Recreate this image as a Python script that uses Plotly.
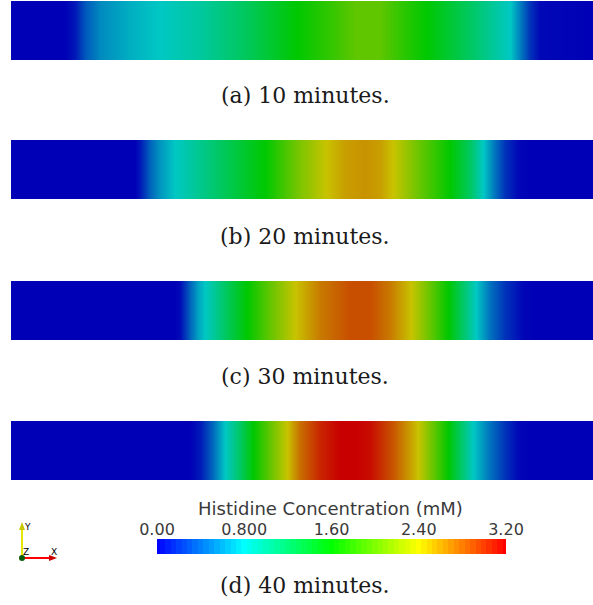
import plotly.graph_objects as go

W, H = 593, 605

# Position along the channel (pixel-like units across the strip, 11..593)
pos_a = [11, 65, 75, 85, 100, 130, 160, 200, 250, 297, 330, 355, 380, 400, 426, 470, 510, 520, 530, 540, 593]
val_a = [0, 0, 0.1, 0.35, 0.55, 0.7, 0.8, 0.95, 1.25, 1.6, 1.8, 1.98, 1.98, 1.8, 1.6, 1.2, 0.8, 0.5, 0.2, 0.03, 0]

pos_b = [11, 135, 140, 150, 160, 175, 220, 265, 300, 326, 345, 365, 380, 393, 420, 450, 470, 483, 495, 505, 518, 530, 593]
val_b = [0, 0, 0.1, 0.4, 0.6, 0.8, 1.2, 1.6, 2.1, 2.4, 2.55, 2.6, 2.55, 2.4, 2.0, 1.6, 1.2, 0.8, 0.45, 0.2, 0.03, 0, 0]

pos_c = [11, 175, 180, 190, 198, 205, 225, 247, 270, 295, 320, 350, 370, 390, 411, 430, 448, 462, 476, 490, 505, 523, 535, 593]
val_c = [0, 0, 0.05, 0.4, 0.65, 0.8, 1.2, 1.6, 2.0, 2.4, 2.7, 2.88, 2.88, 2.7, 2.4, 2.0, 1.6, 1.2, 0.8, 0.45, 0.2, 0.02, 0, 0]

pos_d = [11, 190, 200, 212, 225, 240, 253, 270, 287, 300, 320, 340, 355, 370, 393, 418, 433, 448, 460, 473, 490, 505, 518, 530, 593]
val_d = [0, 0, 0.1, 0.4, 0.8, 1.2, 1.6, 2.0, 2.4, 2.75, 3.05, 3.2, 3.2, 3.15, 2.85, 2.4, 2.0, 1.6, 1.2, 0.8, 0.45, 0.2, 0.03, 0, 0]

captions = ["(a) 10 minutes.", "(b) 20 minutes.", "(c) 30 minutes.", "(d) 40 minutes."]

cb_title = "Histidine Concentration (mM)"
cb_tickvals = [0.0, 0.8, 1.6, 2.4, 3.2]
cb_ticktext = ["0.00", "0.800", "1.60", "2.40", "3.20"]
cb_levels = [i * 0.05 for i in range(65)]  # colour-legend gradient levels

VMIN, VMAX = 0.0, 3.2

strip_scale = [[0.0, "rgb(0,0,182)"], [0.25, "rgb(0,200,195)"], [0.5, "rgb(0,200,0)"],
               [0.75, "rgb(200,195,0)"], [1.0, "rgb(200,0,0)"]]
bar_scale = [[0.0, "rgb(0,0,255)"], [0.25, "rgb(0,255,255)"], [0.5, "rgb(0,255,0)"],
             [0.75, "rgb(255,255,0)"], [1.0, "rgb(255,0,0)"]]

def py(px):
    return 1 - px / H

strips = [(pos_a, val_a, 1, 60), (pos_b, val_b, 140, 199), (pos_c, val_c, 281, 340), (pos_d, val_d, 421, 480)]
cap_y = [96, 237, 376, 585]

fig = go.Figure()
layout = dict(template="none", width=W, height=H, margin=dict(l=0, r=0, t=0, b=0, pad=0, autoexpand=False),
              paper_bgcolor="white", plot_bgcolor="white", showlegend=False)

for i, (p, v, top, bot) in enumerate(strips):
    n = "" if i == 0 else str(i + 1)
    fig.add_trace(go.Heatmap(x=p, y=[0, 1], z=[v, v], zmin=VMIN, zmax=VMAX,
                             colorscale=strip_scale, zsmooth="best", showscale=False,
                             xaxis="x" + n, yaxis="y" + n, hoverinfo="skip"))
    layout["xaxis" + n] = dict(domain=[11 / W, 1], range=[11, 593], visible=False,
                               fixedrange=True, automargin=False)
    layout["yaxis" + n] = dict(domain=[py(bot), py(top)], range=[0, 1], visible=False,
                               fixedrange=True, automargin=False)

# colour legend bar
fig.add_trace(go.Heatmap(x=cb_levels, y=[0], z=[cb_levels], zmin=VMIN, zmax=VMAX,
                         colorscale=bar_scale, showscale=False, xaxis="x5", yaxis="y5",
                         hoverinfo="skip"))
layout["xaxis5"] = dict(domain=[157 / W, 506 / W], range=[0, 3.2], side="top", anchor="y5",
                        tickvals=cb_tickvals, ticktext=cb_ticktext, ticks="", showgrid=False,
                        zeroline=False, showline=False, automargin=False,
                        tickfont=dict(family="DejaVu Sans", size=16, color="#3a3a3a"))
layout["yaxis5"] = dict(domain=[py(554), py(539)], range=[-0.5, 0.5], visible=False, automargin=False)

ann = []
for c, y in zip(captions, cap_y):
    ann.append(dict(text=c, x=305 / W, y=py(y), xref="paper", yref="paper", showarrow=False,
                    xanchor="center", yanchor="middle",
                    font=dict(family="DejaVu Serif", size=22, color="#1a1a1a")))
ann.append(dict(text=cb_title, x=330 / W, y=py(508), xref="paper", yref="paper", showarrow=False,
                xanchor="center", yanchor="middle",
                font=dict(family="DejaVu Sans", size=18, color="#3a3a3a")))

# orientation triad
for t, x, y in [("Y", 27, 527), ("Z", 26, 552), ("X", 54, 552)]:
    ann.append(dict(text=t, x=x / W, y=py(y), xref="paper", yref="paper", showarrow=False,
                    xanchor="center", yanchor="middle",
                    font=dict(family="DejaVu Sans", size=9, color="black")))
shapes = [
    dict(type="line", xref="paper", yref="paper", x0=22 / W, y0=py(558), x1=22 / W, y1=py(524),
         line=dict(color="#e6e600", width=2)),
    dict(type="line", xref="paper", yref="paper", x0=22 / W, y0=py(558), x1=55 / W, y1=py(558),
         line=dict(color="#ff0000", width=2)),
    dict(type="path", xref="paper", yref="paper",
         path=f"M {19/W},{py(530)} L {25/W},{py(530)} L {22/W},{py(522)} Z",
         fillcolor="#c8c800", line=dict(width=0)),
    dict(type="path", xref="paper", yref="paper",
         path=f"M {49/W},{py(555)} L {49/W},{py(561)} L {57/W},{py(558)} Z",
         fillcolor="#cc0000", line=dict(width=0)),
    dict(type="circle", xref="paper", yref="paper", x0=19 / W, y0=py(561), x1=25 / W, y1=py(555),
         fillcolor="#0a5a0a", line=dict(width=0)),
]
layout["annotations"] = ann
layout["shapes"] = shapes
fig.update_layout(**layout)
fig.write_html("out.html")
